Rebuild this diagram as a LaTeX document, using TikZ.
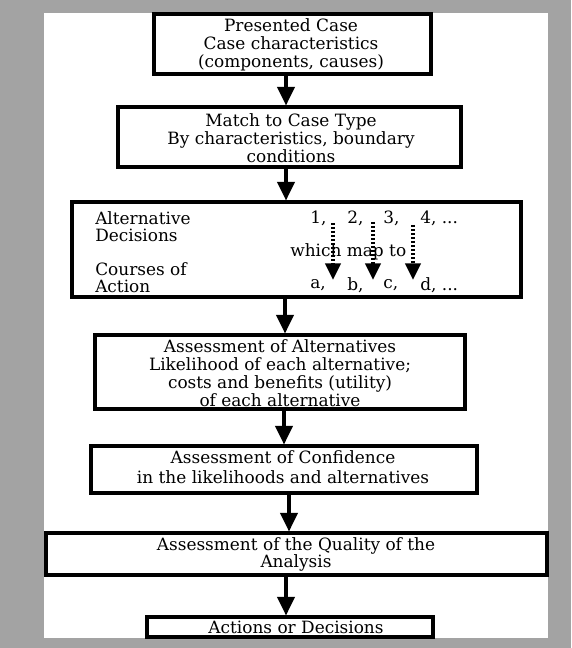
\documentclass[tikz,border=0pt]{standalone}
\usepackage{fontspec}
\setmainfont{DejaVu Serif}
\usetikzlibrary{arrows.meta}
\begin{document}
\begin{tikzpicture}[x=0.75pt,y=-0.75pt,
  box/.style={draw=black, line width=2.3pt, rectangle, inner sep=0pt},
  txt/.style={align=center, font=\fontsize{12.7}{13.4}\selectfont, inner sep=0pt},
  ltxt/.style={align=left, anchor=west, font=\fontsize{12.7}{13}\selectfont, inner sep=0pt},
  arr/.style={line width=2.4pt, -{Triangle[width=13pt,length=14pt]}},
  darr/.style={line width=2.6pt, dash pattern=on 1.6pt off 1.4pt, -{Triangle[width=11.5pt,length=12.5pt]}}]
\definecolor{bggray}{RGB}{163,163,163}
\fill[bggray] (0,0) rectangle (571,648);
\fill[white] (44,13) rectangle (548,638);
\useasboundingbox (0,0) rectangle (571,648);

% boxes
\node[box, minimum width=207.75pt, minimum height=45pt] (b1) at (292.5,44) {};
\node[box, minimum width=257.25pt, minimum height=45pt] (b2) at (289.5,137) {};
\node[box, minimum width=336.75pt, minimum height=71.25pt] (b3) at (296.5,249.5) {};
\node[box, minimum width=277.5pt, minimum height=55.5pt] (b4) at (280,372) {};
\node[box, minimum width=289.5pt, minimum height=35.25pt] (b5) at (284,469.5) {};
\node[box, minimum width=375.75pt, minimum height=31.5pt] (b6) at (296.5,554) {};
\node[box, minimum width=214.5pt, minimum height=15pt] (b7) at (290,627) {};

% texts
\node[txt] (t1) at (291,44.5) {Presented Case\\Case characteristics\\(components, causes)};
\node[txt] (t2) at (291,138.5) {Match to Case Type\\By characteristics, boundary\\conditions};
\node[txt] (t4) at (280,373) {Assessment of Alternatives\\Likelihood of each alternative;\\costs and benefits (utility)\\of each alternative};
\node[txt, font=\fontsize{12.7}{15}\selectfont] (t5) at (283,467) {Assessment of Confidence\\in the likelihoods and alternatives};
\node[txt] (t6) at (296,554.5) {Assessment of the Quality of the\\Analysis};
\node[txt] (t7) at (296,627) {Actions or Decisions};

% box 3 content
\node[ltxt] (alt) at (95,226.5) {Alternative\\Decisions};
\node[ltxt] (cou) at (95,277.5) {Courses of\\Action};
\node[ltxt] (n1) at (310,218) {1,};
\node[ltxt] (n2) at (347,218) {2,};
\node[ltxt] (n3) at (383,218) {3,};
\node[ltxt] (n4) at (420,218) {4, ...};
\node[ltxt] (map) at (290,252) {which map to};
\node[ltxt] (la) at (310,285) {a,};
\node[ltxt] (lb) at (347,285) {b,};
\node[ltxt] (lc) at (383,285) {c,};
\node[ltxt] (ld) at (420,285) {d, ...};
\coordinate (d1s) at (333,223);
\coordinate (d1e) at (333,280);
\coordinate (d2s) at (373,222);
\coordinate (d2e) at (373,280);
\coordinate (d3s) at (413,225);
\coordinate (d3e) at (413,280);
\draw[darr] (d1s) -- (d1e);
\draw[darr] (d2s) -- (d2e);
\draw[darr] (d3s) -- (d3e);

% main arrows
\coordinate (x1) at (286,0);
\coordinate (x2) at (286,0);
\coordinate (x3) at (285,0);
\coordinate (x4) at (284,0);
\coordinate (x5) at (289,0);
\coordinate (x6) at (286,0);
\draw[arr] (b1.south -| x1) -- (b2.north -| x1);
\draw[arr] (b2.south -| x2) -- (b3.north -| x2);
\draw[arr] (b3.south -| x3) -- (b4.north -| x3);
\draw[arr] (b4.south -| x4) -- (b5.north -| x4);
\draw[arr] (b5.south -| x5) -- (b6.north -| x5);
\draw[arr] (b6.south -| x6) -- (b7.north -| x6);
\end{tikzpicture}
\end{document}
